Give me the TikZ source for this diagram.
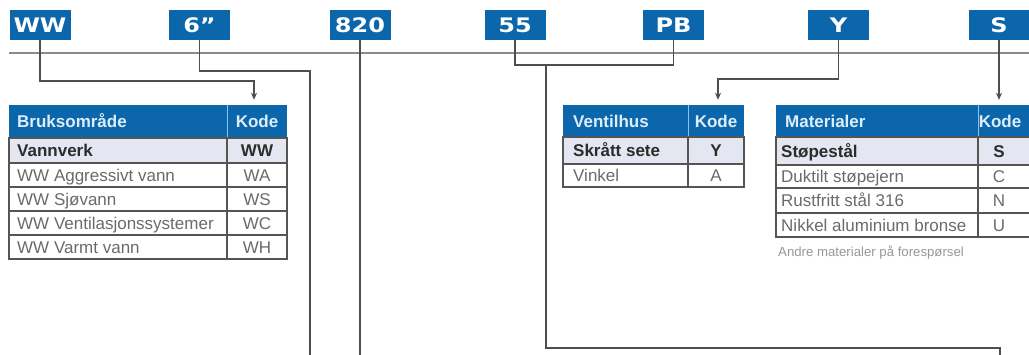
\documentclass[tikz,border=0pt]{standalone}
\usepackage{fontspec}
\usepackage{graphicx}
\setmainfont{Liberation Sans}
\newfontfamily\boxfont{DejaVu Sans}
\usetikzlibrary{arrows.meta}
\definecolor{cblue}{HTML}{0C66AC}
\definecolor{hdrtxt}{HTML}{DCEEFB}
\definecolor{hdrdiv}{HTML}{8EC2E8}
\definecolor{rowhl}{HTML}{E4E7F1}
\definecolor{gridcol}{HTML}{555555}
\definecolor{rowtxt}{HTML}{6A6A6A}
\definecolor{boldtxt}{HTML}{2C2C2C}
\definecolor{conncol}{HTML}{4E4E4E}
\definecolor{maincol}{HTML}{8A8A8A}
\newcommand{\bxt}[1]{\scalebox{1.2}[1]{#1}}
\begin{document}
\begin{tikzpicture}[x=1pt,y=-1pt,
  codebox/.style={fill=cblue, minimum width=61pt, minimum height=30pt, inner sep=0pt,
    text=white, font=\boxfont\bfseries\fontsize{20}{20}\selectfont},
  conn/.style={draw=conncol, line width=1.6pt},
  arr/.style={-{Stealth[length=7pt,width=6pt]}},
  mainline/.style={draw=maincol, line width=2pt},
  gridl/.style={draw=gridcol, line width=1.1pt},
  hdiv/.style={draw=hdrdiv, line width=1pt},
  hd/.style={inner sep=0pt, text=hdrtxt, text height=12.5pt, text depth=0.5pt,
    font=\bfseries\fontsize{17}{17}\selectfont},
  hdk/.style={hd, minimum height=32pt},
  rowb/.style={inner sep=0pt, text=boldtxt, text height=12.5pt, text depth=0.5pt,
    font=\bfseries\fontsize{17}{17}\selectfont},
  rown/.style={inner sep=0pt, text=rowtxt, text height=12.5pt, text depth=0.5pt,
    font=\fontsize{17}{17}\selectfont},
  note/.style={inner sep=0pt, text=rowtxt!70, font=\fontsize{13.2}{13.2}\selectfont}
]
\useasboundingbox (0,0) rectangle (1029,354);
\clip (0,0) rectangle (1029,354);

% main line
\draw[mainline] (9,53) -- (1029,53);

% code boxes
\node[codebox] (ww)   at (40,25)    {\bxt{WW}};
\node[codebox] (six)  at (199.5,25) {\bxt{6”}};
\node[codebox] (n820) at (360,25)   {\bxt{820}};
\node[codebox] (f55)  at (515,25)   {\bxt{55}};
\node[codebox] (pb)   at (673.5,25) {\bxt{PB}};
\node[codebox] (yy)   at (838.5,25) {\bxt{Y}};
\node[codebox] (ss)   at (999,25)   {\bxt{S}};

% ---------- Table 1 ----------
\fill[cblue] (9,105) rectangle (287,138);
\draw[hdiv] (227,105) -- (227,138);
\fill[rowhl] (9,138) rectangle (287,163);
\draw[gridl] (9,138) rectangle (287,259);
\foreach \yy in {163,187,211,235} \draw[gridl] (9,\yy) -- (287,\yy);
\draw[gridl] (227,138) -- (227,259);
\node[hd, anchor=west] (t1h) at (17,121.5) {Bruksområde};
\node[hdk] (t1k) at (257,121) {Kode};
\node[rowb, anchor=west] (t1r1) at (17,150.5) {Vannverk};
\node[rown, anchor=west] (t1r2) at (17,175) {WW Aggressivt vann};
\node[rown, anchor=west] (t1r3) at (17,199) {WW Sjøvann};
\node[rown, anchor=west] (t1r4) at (17,223) {WW Ventilasjonssystemer};
\node[rown, anchor=west] (t1r5) at (17,247) {WW Varmt vann};
\node[rowb] (t1c1) at (257,150.5) {WW};
\node[rown] (t1c2) at (257,175) {WA};
\node[rown] (t1c3) at (257,199) {WS};
\node[rown] (t1c4) at (257,223) {WC};
\node[rown] (t1c5) at (257,247) {WH};

% ---------- Table 2 ----------
\fill[cblue] (563,105) rectangle (744,137);
\draw[hdiv] (688,105) -- (688,137);
\fill[rowhl] (563,137) rectangle (744,164);
\draw[gridl] (563,137) rectangle (744,187);
\draw[gridl] (563,164) -- (744,164);
\draw[gridl] (688,137) -- (688,187);
\node[hd, anchor=west] (t2h) at (573,121) {Ventilhus};
\node[hdk] (t2k) at (716,121) {Kode};
\node[rowb, anchor=west] (t2r1) at (573,150.5) {Skrått sete};
\node[rown, anchor=west] (t2r2) at (573,175.5) {Vinkel};
\node[rowb] (t2c1) at (716,150.5) {Y};
\node[rown] (t2c2) at (716,175.5) {A};

% ---------- Table 3 ----------
\fill[cblue] (776,105) rectangle (1035,137);
\draw[hdiv] (978,105) -- (978,137);
\fill[rowhl] (776,137) rectangle (1035,165);
\draw[gridl] (776,137) rectangle (1035,237);
\foreach \yy in {165,188,213} \draw[gridl] (776,\yy) -- (1035,\yy);
\draw[gridl] (978,137) -- (978,237);
\node[hd, anchor=west] (t3h) at (785,121) {Materialer};
\node[hdk] (t3k) at (1000,121) {Kode};
\node[rowb, anchor=west] (t3r1) at (781,151) {Støpestål};
\node[rown, anchor=west] (t3r2) at (781,176.5) {Duktilt støpejern};
\node[rown, anchor=west] (t3r3) at (781,200.5) {Rustfritt stål 316};
\node[rown, anchor=west] (t3r4) at (781,225) {Nikkel aluminium bronse};
\node[rowb] (t3c1) at (999,151) {S};
\node[rown] (t3c2) at (999,176.5) {C};
\node[rown] (t3c3) at (999,200.5) {N};
\node[rown] (t3c4) at (999,225) {U};
\node[note, anchor=west] (t3n) at (778,253) {Andre materialer på forespørsel};

% ---------- connectors ----------
\coordinate (e6) at (310,360);
\coordinate (j55) at (546,65);
\coordinate (e55) at (1000,360);
\draw[conn,arr] (ww.south) -- ++(0,41) -| ([xshift=-3pt,yshift=5pt]t1k.north);
\draw[conn] (six.south) -- ++(0,31) -| (e6);
\draw[conn] (n820.south) -- ++(0,320);
\draw[conn] (f55.south) -- ++(0,25) -| (pb.south);
\draw[conn] (j55) -- ++(0,283) -| (e55);
\draw[conn,arr] (yy.south) -- ++(0,39) -| ([xshift=2pt,yshift=5pt]t2k.north);
\draw[conn,arr] (ss.south) -- ([xshift=-1pt,yshift=5pt]t3k.north);
\end{tikzpicture}
\end{document}
